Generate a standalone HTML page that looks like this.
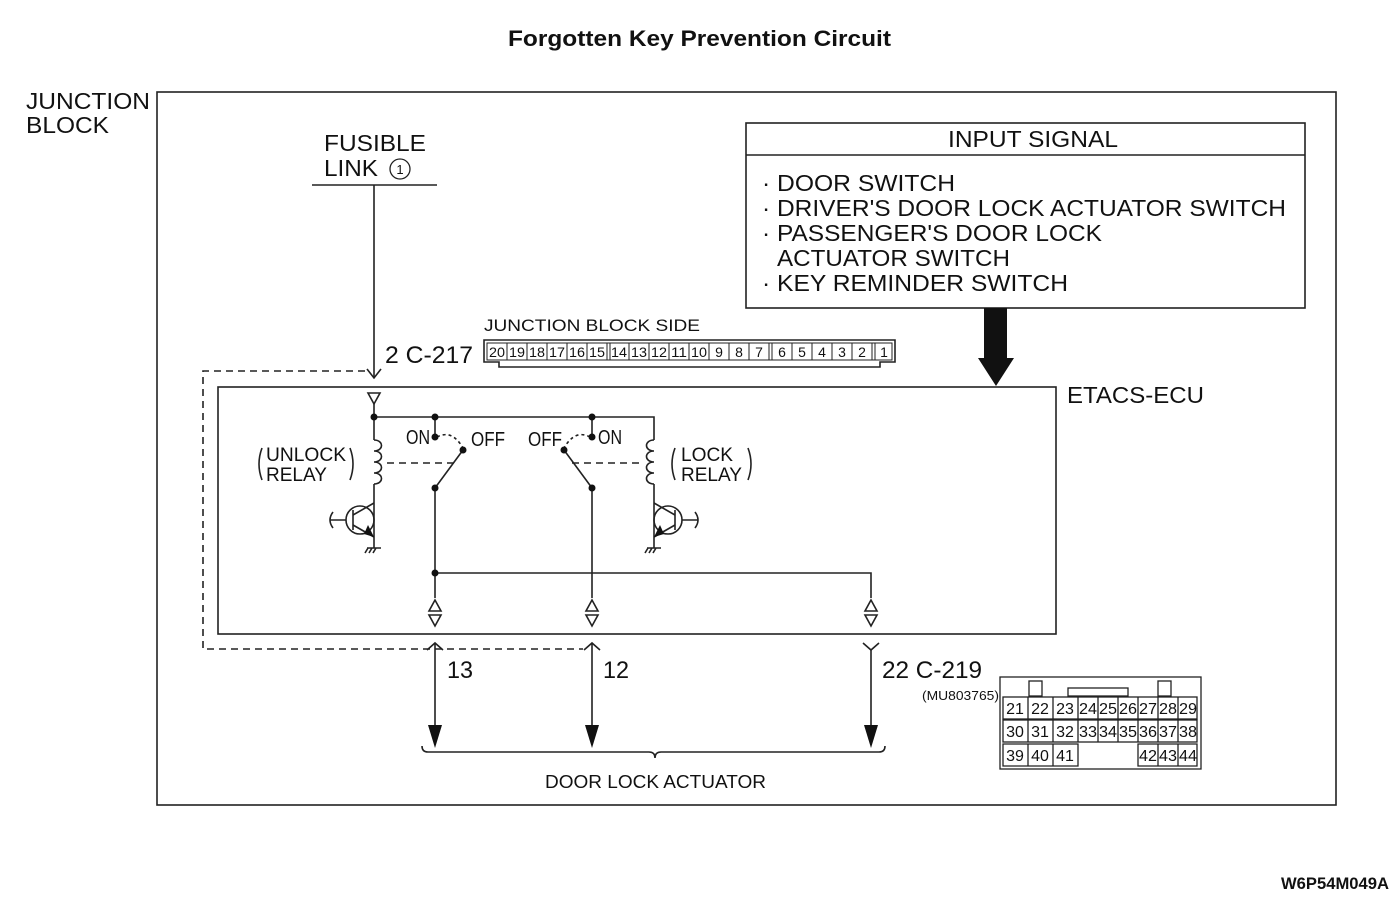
<!DOCTYPE html>
<html><head><meta charset="utf-8"><style>
html,body{margin:0;padding:0;background:#fff;}
svg{display:block;}
text{font-family:"Liberation Sans",sans-serif;fill:#111;}
</style></head><body>
<svg width="1400" height="898" viewBox="0 0 1400 898" xmlns="http://www.w3.org/2000/svg">
<rect width="1400" height="898" fill="#fff"/>
<text x="508" y="46" font-size="22" font-weight="bold" textLength="383" lengthAdjust="spacingAndGlyphs">Forgotten Key Prevention Circuit</text>
<text x="26" y="109" font-size="23" textLength="124" lengthAdjust="spacingAndGlyphs">JUNCTION</text>
<text x="26" y="133" font-size="23" textLength="83" lengthAdjust="spacingAndGlyphs">BLOCK</text>
<g fill="none" stroke="#222" stroke-width="1.6">
<rect x="157" y="92" width="1179" height="713"/>
<rect x="746" y="123" width="559" height="185"/>
<line x1="746" y1="155" x2="1305" y2="155"/>
<rect x="218" y="387" width="838" height="247"/>
<line x1="312" y1="185" x2="437" y2="185"/>
<line x1="374" y1="185" x2="374" y2="378"/>
<polyline points="367,369 374,378 381,369"/>
<polyline stroke-dasharray="7,5" points="365,371 203,371 203,649 583,649"/>
<polygon points="368,393 380,393 374,404"/>
<line x1="374" y1="404" x2="374" y2="440"/>
<polyline points="374,417 654,417 654,440"/>
<line x1="435" y1="417" x2="435" y2="437"/>
<line x1="592" y1="417" x2="592" y2="437"/>
<path d="M374,440 c10,0 10,11 0,11 c10,0 10,11 0,11 c10,0 10,11 0,11 c10,0 10,11 0,11"/>
<path d="M654,440 c-10,0 -10,11 0,11 c-10,0 -10,11 0,11 c-10,0 -10,11 0,11 c-10,0 -10,11 0,11"/>
<line x1="374" y1="484" x2="374" y2="548"/>
<line x1="654" y1="484" x2="654" y2="548"/>
<line stroke-dasharray="7,5" x1="387" y1="463" x2="456" y2="463"/>
<line stroke-dasharray="7,5" x1="572" y1="463" x2="642" y2="463"/>
<path stroke-dasharray="3,3" d="M437,437 q15,-8 26,11"/>
<path stroke-dasharray="3,3" d="M590,437 q-15,-8 -26,11"/>
<line x1="435" y1="488" x2="463" y2="450"/>
<line x1="592" y1="488" x2="564" y2="450"/>
<line x1="435" y1="488" x2="435" y2="598"/>
<line x1="592" y1="488" x2="592" y2="598"/>
<polyline points="435,573 871,573 871,598"/>
<circle cx="360" cy="520" r="14"/>
<line x1="353" y1="510" x2="353" y2="530"/>
<line x1="353" y1="515" x2="374" y2="503"/>
<line x1="353" y1="525" x2="374" y2="537"/>
<path d="M346,520 H330 M333,512 q-6,8 0,16"/>
<circle cx="668" cy="520" r="14"/>
<line x1="675" y1="510" x2="675" y2="530"/>
<line x1="675" y1="515" x2="654" y2="503"/>
<line x1="675" y1="525" x2="654" y2="537"/>
<path d="M682,520 H698 M695,512 q6,8 0,16"/>
<path d="M367,548 h14 M368,548 l-3,5 M372,548 l-3,5 M376,548 l-3,5"/>
<path d="M647,548 h14 M648,548 l-3,5 M652,548 l-3,5 M656,548 l-3,5"/>
<path d="M262,448 q-6,16 0,32 M350,448 q6,16 0,32"/>
<path d="M675,448 q-6,16 0,32 M748,448 q6,16 0,32"/>
<polygon points="435,600 429,611 441,611"/><polygon points="429,615 441,615 435,626"/>
<polygon points="592,600 586,611 598,611"/><polygon points="586,615 598,615 592,626"/>
<polygon points="871,600 865,611 877,611"/><polygon points="865,615 877,615 871,626"/>
<polyline points="427,650 435,643 443,650"/>
<polyline points="584,650 592,643 600,650"/>
<polyline points="863,643 871,650 879,643"/>
<line x1="435" y1="643" x2="435" y2="728"/>
<line x1="592" y1="643" x2="592" y2="728"/>
<line x1="871" y1="650" x2="871" y2="728"/>
<path d="M422,746 q0,6 6,6 H649 q6,0 6,6 q0,-6 6,-6 H879 q6,0 6,-6"/>
<path d="M484,340 H895 V362 H880 V367 H499 V362 H484 Z"/>
<rect x="487" y="343" width="405" height="17" stroke-width="1"/>
</g>
<g fill="#111">
<circle cx="374" cy="417" r="3.5"/><circle cx="435" cy="417" r="3.5"/><circle cx="592" cy="417" r="3.5"/>
<circle cx="435" cy="437" r="3.5"/><circle cx="592" cy="437" r="3.5"/>
<circle cx="463" cy="450" r="3.5"/><circle cx="564" cy="450" r="3.5"/>
<circle cx="435" cy="488" r="3.5"/><circle cx="592" cy="488" r="3.5"/>
<circle cx="435" cy="573" r="3.5"/>
<polygon points="428,725 442,725 435,748"/>
<polygon points="585,725 599,725 592,748"/>
<polygon points="864,725 878,725 871,748"/>
<polygon points="984,308 1007,308 1007,358 1014,358 996,386 978,358 984,358"/>
<polygon points="368,525 374,537 364,534"/>
<polygon points="660,525 654,537 664,534"/>
</g>
<circle cx="400" cy="169" r="10" fill="none" stroke="#222" stroke-width="1.3"/>
<text x="400" y="174" font-size="13" text-anchor="middle">1</text>
<text x="324" y="151" font-size="23" textLength="102" lengthAdjust="spacingAndGlyphs">FUSIBLE</text>
<text x="324" y="176" font-size="23" textLength="54" lengthAdjust="spacingAndGlyphs">LINK</text>
<text x="948" y="147" font-size="23" textLength="170" lengthAdjust="spacingAndGlyphs">INPUT SIGNAL</text>
<text x="762" y="191" font-size="23" textLength="193" lengthAdjust="spacingAndGlyphs">· DOOR SWITCH</text>
<text x="762" y="216" font-size="23" textLength="524" lengthAdjust="spacingAndGlyphs">· DRIVER'S DOOR LOCK ACTUATOR SWITCH</text>
<text x="762" y="241" font-size="23" textLength="340" lengthAdjust="spacingAndGlyphs">· PASSENGER'S DOOR LOCK</text>
<text x="777" y="266" font-size="23" textLength="233" lengthAdjust="spacingAndGlyphs">ACTUATOR SWITCH</text>
<text x="762" y="291" font-size="23" textLength="306" lengthAdjust="spacingAndGlyphs">· KEY REMINDER SWITCH</text>
<text x="1067" y="403" font-size="23" textLength="137" lengthAdjust="spacingAndGlyphs">ETACS-ECU</text>
<text x="484" y="331" font-size="17" textLength="216" lengthAdjust="spacingAndGlyphs">JUNCTION BLOCK SIDE</text>
<text x="385" y="363" font-size="24" textLength="88" lengthAdjust="spacingAndGlyphs">2 C-217</text>
<g font-size="14" text-anchor="middle">
<text x="497" y="357" textLength="16" lengthAdjust="spacingAndGlyphs">20</text>
<text x="517" y="357" textLength="16" lengthAdjust="spacingAndGlyphs">19</text>
<text x="537" y="357" textLength="16" lengthAdjust="spacingAndGlyphs">18</text>
<text x="557" y="357" textLength="16" lengthAdjust="spacingAndGlyphs">17</text>
<text x="577" y="357" textLength="16" lengthAdjust="spacingAndGlyphs">16</text>
<text x="597" y="357" textLength="16" lengthAdjust="spacingAndGlyphs">15</text>
<text x="619" y="357" textLength="16" lengthAdjust="spacingAndGlyphs">14</text>
<text x="639" y="357" textLength="16" lengthAdjust="spacingAndGlyphs">13</text>
<text x="659" y="357" textLength="16" lengthAdjust="spacingAndGlyphs">12</text>
<text x="679" y="357" textLength="16" lengthAdjust="spacingAndGlyphs">11</text>
<text x="699" y="357" textLength="16" lengthAdjust="spacingAndGlyphs">10</text>
<text x="719" y="357">9</text><text x="739" y="357">8</text><text x="759" y="357">7</text>
<text x="782" y="357">6</text><text x="802" y="357">5</text><text x="822" y="357">4</text>
<text x="842" y="357">3</text><text x="862" y="357">2</text><text x="884" y="357">1</text>
</g>
<g stroke="#222" stroke-width="1">
<line x1="507" y1="343" x2="507" y2="360"/><line x1="527" y1="343" x2="527" y2="360"/><line x1="547" y1="343" x2="547" y2="360"/><line x1="567" y1="343" x2="567" y2="360"/><line x1="587" y1="343" x2="587" y2="360"/><line x1="607" y1="343" x2="607" y2="360"/><line x1="610" y1="343" x2="610" y2="360"/><line x1="629" y1="343" x2="629" y2="360"/><line x1="649" y1="343" x2="649" y2="360"/><line x1="669" y1="343" x2="669" y2="360"/><line x1="689" y1="343" x2="689" y2="360"/><line x1="709" y1="343" x2="709" y2="360"/><line x1="729" y1="343" x2="729" y2="360"/><line x1="749" y1="343" x2="749" y2="360"/><line x1="769" y1="343" x2="769" y2="360"/><line x1="772" y1="343" x2="772" y2="360"/><line x1="792" y1="343" x2="792" y2="360"/><line x1="812" y1="343" x2="812" y2="360"/><line x1="832" y1="343" x2="832" y2="360"/><line x1="852" y1="343" x2="852" y2="360"/><line x1="872" y1="343" x2="872" y2="360"/><line x1="875" y1="343" x2="875" y2="360"/>
</g>
<text x="406" y="444" font-size="20" textLength="24" lengthAdjust="spacingAndGlyphs">ON</text>
<text x="471" y="446" font-size="20" textLength="34" lengthAdjust="spacingAndGlyphs">OFF</text>
<text x="528" y="446" font-size="20" textLength="34" lengthAdjust="spacingAndGlyphs">OFF</text>
<text x="598" y="444" font-size="20" textLength="24" lengthAdjust="spacingAndGlyphs">ON</text>
<text x="266" y="461" font-size="19" textLength="80" lengthAdjust="spacingAndGlyphs">UNLOCK</text>
<text x="266" y="481" font-size="19" textLength="61" lengthAdjust="spacingAndGlyphs">RELAY</text>
<text x="681" y="461" font-size="19" textLength="52" lengthAdjust="spacingAndGlyphs">LOCK</text>
<text x="681" y="481" font-size="19" textLength="61" lengthAdjust="spacingAndGlyphs">RELAY</text>
<text x="447" y="678" font-size="24" textLength="26" lengthAdjust="spacingAndGlyphs">13</text>
<text x="603" y="678" font-size="24" textLength="26" lengthAdjust="spacingAndGlyphs">12</text>
<text x="882" y="678" font-size="24" textLength="100" lengthAdjust="spacingAndGlyphs">22  C-219</text>
<text x="922" y="700" font-size="13" textLength="77" lengthAdjust="spacingAndGlyphs">(MU803765)</text>
<text x="545" y="788" font-size="18" textLength="221" lengthAdjust="spacingAndGlyphs">DOOR LOCK ACTUATOR</text>
<g fill="none" stroke="#222" stroke-width="1.3">
<rect x="1000" y="677" width="201" height="92"/>
<rect x="1029" y="681" width="13" height="15"/>
<rect x="1158" y="681" width="13" height="15"/>
<rect x="1068" y="688" width="60" height="8"/>
<rect x="1003" y="697" width="194" height="22"/>
<rect x="1003" y="720" width="194" height="22"/>
<path d="M1003,744 H1078 V766 H1003 Z M1138,744 H1197 V766 H1138 Z"/>
<path d="M1028,697 V742 M1053,697 V742 M1078,697 V742 M1098,697 V742 M1118,697 V742 M1138,697 V742 M1158,697 V742 M1178,697 V742 M1028,744 V766 M1053,744 V766 M1158,744 V766 M1178,744 V766"/>
</g>
<g font-size="16" text-anchor="middle">
<text x="1015" y="714">21</text><text x="1040" y="714">22</text><text x="1065" y="714">23</text><text x="1088" y="714" textLength="18" lengthAdjust="spacingAndGlyphs">24</text><text x="1108" y="714" textLength="18" lengthAdjust="spacingAndGlyphs">25</text><text x="1128" y="714" textLength="18" lengthAdjust="spacingAndGlyphs">26</text><text x="1148" y="714" textLength="18" lengthAdjust="spacingAndGlyphs">27</text><text x="1168" y="714" textLength="18" lengthAdjust="spacingAndGlyphs">28</text><text x="1188" y="714" textLength="18" lengthAdjust="spacingAndGlyphs">29</text>
<text x="1015" y="737">30</text><text x="1040" y="737">31</text><text x="1065" y="737">32</text><text x="1088" y="737" textLength="18" lengthAdjust="spacingAndGlyphs">33</text><text x="1108" y="737" textLength="18" lengthAdjust="spacingAndGlyphs">34</text><text x="1128" y="737" textLength="18" lengthAdjust="spacingAndGlyphs">35</text><text x="1148" y="737" textLength="18" lengthAdjust="spacingAndGlyphs">36</text><text x="1168" y="737" textLength="18" lengthAdjust="spacingAndGlyphs">37</text><text x="1188" y="737" textLength="18" lengthAdjust="spacingAndGlyphs">38</text>
<text x="1015" y="761">39</text><text x="1040" y="761">40</text><text x="1065" y="761">41</text><text x="1148" y="761" textLength="18" lengthAdjust="spacingAndGlyphs">42</text><text x="1168" y="761" textLength="18" lengthAdjust="spacingAndGlyphs">43</text><text x="1188" y="761" textLength="18" lengthAdjust="spacingAndGlyphs">44</text>
</g>
<text x="1281" y="889" font-size="17" font-weight="bold" textLength="108" lengthAdjust="spacingAndGlyphs">W6P54M049A</text>
</svg>
</body></html>
